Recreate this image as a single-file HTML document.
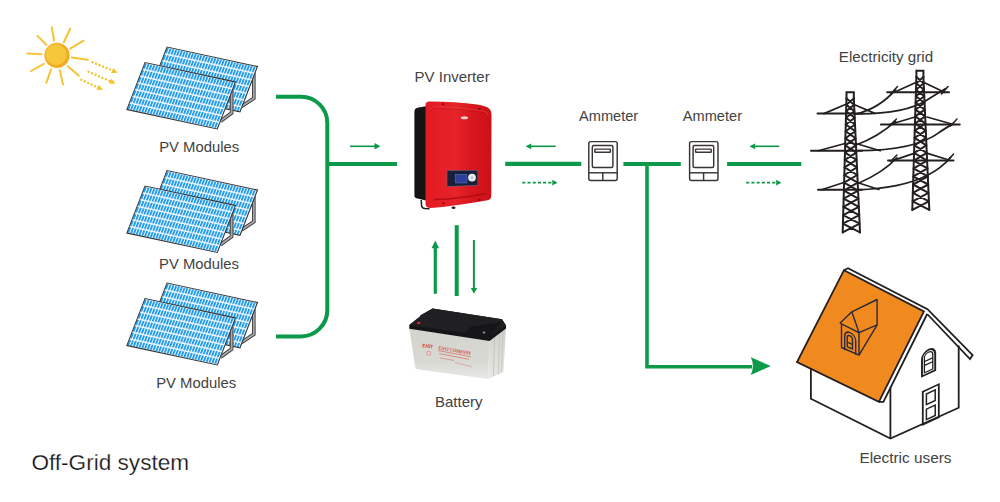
<!DOCTYPE html>
<html><head><meta charset="utf-8">
<style>
html,body{margin:0;padding:0;background:#fff;width:1000px;height:502px;overflow:hidden}
svg{display:block}
.lbl{font-family:"Liberation Sans",sans-serif;font-size:15px;fill:#424242}
</style></head>
<body>
<svg width="1000" height="502" viewBox="0 0 1000 502">
<defs>
  <pattern id="cells" patternUnits="userSpaceOnUse" x="0.3" y="0.8" width="2.8" height="6.714">
    <rect width="2.8" height="6.714" fill="#1194ea"/>
    <rect x="1.72" y="0" width="1.08" height="6.714" fill="#f4faff"/>
    <rect x="0" y="5.35" width="2.8" height="1.36" fill="#f4faff"/>
  </pattern>
  <linearGradient id="redg" x1="0" y1="0" x2="1" y2="0">
    <stop offset="0" stop-color="#e31a22"/>
    <stop offset="0.45" stop-color="#e6242a"/>
    <stop offset="0.7" stop-color="#d8161d"/>
    <stop offset="1" stop-color="#cc1119"/>
  </linearGradient>
  <linearGradient id="battf" x1="0" y1="0" x2="0" y2="1">
    <stop offset="0" stop-color="#d3d4cd"/>
    <stop offset="0.65" stop-color="#d8d9d3"/>
    <stop offset="1" stop-color="#e8e8e5"/>
  </linearGradient>
  <linearGradient id="batts" x1="0" y1="0" x2="0" y2="1">
    <stop offset="0" stop-color="#cfd0ca"/>
    <stop offset="1" stop-color="#e8e8e5"/>
  </linearGradient>
</defs>

<!-- SUN -->
<g id="sun">
  <g stroke="#f6c435" stroke-width="2" stroke-linecap="round">
    <line x1="37.5" y1="35.9" x2="46.3" y2="44.7"/>
    <line x1="51.8" y1="27.2" x2="54.2" y2="40.7"/>
    <line x1="70.2" y1="28.8" x2="63.8" y2="42.3"/>
    <line x1="83.7" y1="40.7" x2="70.2" y2="48.7"/>
    <line x1="27.2" y1="53.4" x2="41.5" y2="54.2"/>
    <line x1="71.8" y1="57.4" x2="87.7" y2="59.8"/>
    <line x1="31.1" y1="71" x2="43.9" y2="63.8"/>
    <line x1="46.3" y1="82.9" x2="51.1" y2="69.4"/>
    <line x1="63" y1="84.5" x2="59.8" y2="70.2"/>
    <line x1="78.9" y1="75.7" x2="67.8" y2="66.2"/>
  </g>
  <circle cx="57" cy="55.4" r="12.6" fill="#f1ac22"/>
  <circle cx="56.1" cy="54.6" r="10.5" fill="#f6c73a"/>
  <g stroke="#f6bf22" stroke-width="2.3" stroke-linecap="round" stroke-dasharray="0.1 3.7" fill="none">
    <line x1="92.5" y1="62.2" x2="112.7" y2="70.7"/>
    <line x1="88.5" y1="71.8" x2="110.7" y2="81.4"/>
    <line x1="81.3" y1="79.7" x2="98.1" y2="87.6"/>
  </g>
  <g fill="#f6bf22">
    <polygon points="117.6,72.8 111.2,73.0 113.3,68.1"/>
    <polygon points="115.6,83.5 109.2,83.7 111.3,78.7"/>
    <polygon points="102.9,89.8 96.5,89.8 98.8,84.9"/>
  </g>
</g>

<!-- PANELS -->
<g id="panel">
  <!-- back stand -->
  <path d="M253.8,72.5 L253.8,98.3 L241.5,106.5" fill="none" stroke="#3a3a3a" stroke-width="3.6" stroke-linejoin="miter"/>
  <path d="M253.8,72.5 L253.8,98.3 L241.5,106.5" fill="none" stroke="#a9a9a9" stroke-width="1.8" stroke-linejoin="miter"/>
  <!-- back panel -->
  <g transform="matrix(1,0.2155,-0.3863,1,167,47)">
    <rect x="0" y="0" width="90.5" height="45.3" fill="url(#cells)" stroke="#333" stroke-width="1"/>
  </g>
  <!-- front stand -->
  <path d="M231.6,86 L231.6,113 L220.5,121.2" fill="none" stroke="#3a3a3a" stroke-width="3.6"/>
  <path d="M231.6,86 L231.6,113 L220.5,121.2" fill="none" stroke="#a9a9a9" stroke-width="1.8"/>
  <!-- front panel -->
  <g transform="matrix(1,0.2155,-0.3863,1,145,62.5)">
    <rect x="0" y="0" width="90.5" height="47" fill="url(#cells)" stroke="#333" stroke-width="1"/>
  </g>
</g>
<use href="#panel" transform="translate(0,123.5)"/>
<use href="#panel" transform="translate(0,236)"/>

<!-- GREEN LINES -->
<g stroke="#0c9a4a" fill="none">
  <path d="M276,96.7 L301,96.7 A26.3,26.3 0 0 1 327.3,123 L327.3,310 A26.3,26.3 0 0 1 301,336.4 L276,336.4" stroke-width="4"/>
  <line x1="327.3" y1="164" x2="397" y2="164" stroke-width="4"/>
  <line x1="505.2" y1="163.9" x2="581.3" y2="163.9" stroke-width="4.2"/>
  <line x1="623.4" y1="164" x2="680.8" y2="164" stroke-width="4.2"/>
  <line x1="727.1" y1="164" x2="801.3" y2="164" stroke-width="4.2"/>
  <path d="M647,164 L647,366.8 L752,366.8" stroke-width="3.6"/>
  <line x1="456.7" y1="225.2" x2="456.7" y2="296" stroke-width="4"/>
  <line x1="435.3" y1="247" x2="435.3" y2="293.8" stroke-width="3.2"/>
  <line x1="473.9" y1="240" x2="473.9" y2="289" stroke-width="2"/>
  <!-- small arrows -->
  <line x1="350" y1="146.3" x2="376" y2="146.3" stroke-width="1.6"/>
  <line x1="530" y1="146.3" x2="555.7" y2="146.3" stroke-width="1.6"/>
  <line x1="754" y1="146.3" x2="779.3" y2="146.3" stroke-width="1.6"/>
  <line x1="522.3" y1="182.7" x2="553" y2="182.7" stroke-width="1.7" stroke-dasharray="3.1 2.1"/>
  <line x1="746.2" y1="182.7" x2="777" y2="182.7" stroke-width="1.7" stroke-dasharray="3.1 2.1"/>
</g>
<g fill="#0c9a4a">
  <polygon points="380.5,146.3 374.5,143 374.5,149.6"/>
  <polygon points="525.6,146.3 531.2,143.4 531.2,149.2"/>
  <polygon points="749.5,146.3 755.1,143.4 755.1,149.2"/>
  <polygon points="557.6,182.7 552.3,179.8 552.3,185.6"/>
  <polygon points="781.5,182.7 776.2,179.8 776.2,185.6"/>
  <polygon points="435.3,240.4 431.5,248.3 439.1,248.3"/>
  <polygon points="473.9,293.8 470.8,287.9 477.2,287.9"/>
  <path d="M770.8,366 L750.8,357.3 Q755,366 750.8,374.9 Z"/>
</g>

<!-- INVERTER -->
<g id="inverter">
  <path d="M418.5,107.6 Q414.4,108 414.4,112 L414.4,195.5 Q414.4,198.2 417.5,198.6 L426,200.5 L426,106.2 Z" fill="#141414"/>
  <path d="M421.2,200 L421.6,205.8 Q422,208.2 425,208.5 L429.5,208.7" fill="none" stroke="#1a1a1a" stroke-width="1.5"/>
  <path d="M429.2,101.6 Q456,101.6 477,104.6 Q486,106.2 489,108.5 Q491.5,110.5 491.5,114.5 L491.3,195.5 Q491.3,199.8 487.5,200.3 Q445,207.6 430,207.9 Q425.5,208 425.5,203.5 L425.5,105.3 Q425.5,101.6 429.2,101.6 Z" fill="url(#redg)"/>
  <path d="M430.5,112 Q431,108 436,108 Q462,108.8 483,112.5 Q487.2,113.5 487.2,117" fill="none" stroke="#b8101a" stroke-width="1.1" opacity="0.45"/>
  <path d="M430,110.5 Q430.5,106.8 435.5,106.8 Q462,107.5 483.5,111.2 Q487.8,112.2 487.8,116" fill="none" stroke="#f25858" stroke-width="0.8" opacity="0.5"/>
  <path d="M434,199.6 Q462,198.5 486,193.4" fill="none" stroke="#a00a0e" stroke-width="1.5" opacity="0.75"/>
  <circle cx="442.9" cy="104.3" r="1" fill="#6a0a0c"/>
  <circle cx="479.4" cy="109" r="1" fill="#6a0a0c"/>
  <circle cx="443.5" cy="203.3" r="1" fill="#6a0a0c"/>
  <circle cx="479.5" cy="199.8" r="1" fill="#6a0a0c"/>
  <ellipse cx="464.5" cy="117.8" rx="3.6" ry="1.5" fill="#f4d0d0"/>
  <ellipse cx="453.5" cy="207.8" rx="2" ry="1.2" fill="#222"/>
  <path d="M447,170.6 L477.8,170.3 L477.8,185.3 L447,186.6 Z" fill="#19203a" stroke="#6c7494" stroke-width="0.5"/>
  <rect x="455.4" y="174.3" width="11.5" height="8.7" fill="#2c3f9a" stroke="#6a7ac0" stroke-width="0.5"/>
  <circle cx="472" cy="177.6" r="3.9" fill="#e8ecf2"/>
  <circle cx="472" cy="177.6" r="1.5" fill="#c2c8d6"/>
</g>

<!-- BATTERY -->
<g id="battery">
  <polygon points="409.3,328.5 489.5,340.5 488,379 415.5,369" fill="url(#battf)"/>
  <polygon points="489.5,340.5 506,328 503.5,372 488,379" fill="url(#batts)"/>
  <g stroke="#bfc0ba" stroke-width="0.8">
    <line x1="494.5" y1="336.8" x2="493.5" y2="376.5"/>
    <line x1="499.5" y1="333" x2="498.5" y2="374"/>
    <line x1="503" y1="330.5" x2="501.5" y2="372.5"/>
  </g>
  <polygon points="409.3,325 420,316.5 420.3,315.5 432.6,308.5 502,319.3 506,325.5 506,328.5 489.5,341 409.3,328.7" fill="#151517"/>
  <polygon points="409.3,325 489.5,336.5 506,325.5 502,319.3 432.6,308.5 420.3,315.5 420,316.5" fill="#202023"/>
  <polygon points="470,327 503,321.5 489.5,336.5 466,333" fill="#161618"/>
  <ellipse cx="418.7" cy="322.9" rx="1.8" ry="1.2" fill="#e02026"/>
  <ellipse cx="484" cy="332.5" rx="1.4" ry="1" fill="#8a8c90"/>
  <text transform="translate(422.3,347.3) rotate(6)" textLength="10.5" lengthAdjust="spacingAndGlyphs" style="font-family:'Liberation Sans',sans-serif;font-weight:bold;font-size:5px;fill:#d83434">EAST</text>
  <circle cx="428.7" cy="353.2" r="2.1" fill="none" stroke="#e08080" stroke-width="0.7"/>
  <text transform="translate(438.3,349.2) rotate(10.4)" textLength="33" lengthAdjust="spacingAndGlyphs" style="font-family:'Liberation Serif',serif;font-weight:bold;font-size:5.2px;fill:#d84848">EAST COMPANY</text>
  <g stroke="#dc6a6a" fill="none" opacity="0.8">
    <line x1="438.3" y1="350.6" x2="471" y2="356.8" stroke-width="0.9"/>
    <line x1="439" y1="353.6" x2="469" y2="359.3" stroke-width="0.9"/>
    <line x1="440" y1="357.8" x2="454" y2="360.5" stroke-width="0.7"/>
    <line x1="455" y1="362.3" x2="471.5" y2="366.8" stroke-width="0.6"/>
  </g>
</g>

<!-- AMMETERS -->
<g id="ammeter" fill="none" stroke="#3a3434" stroke-width="1.45">
  <rect x="588.8" y="141.6" width="28.4" height="38.8" rx="2"/>
  <rect x="592.3" y="145.4" width="20.6" height="22" rx="1.5"/>
  <rect x="594.8" y="149.1" width="15.6" height="3.2" rx="0.6"/>
  <line x1="588.8" y1="172.8" x2="617.2" y2="172.8"/>
  <line x1="602.8" y1="172.8" x2="602.8" y2="180.4"/>
</g>
<use href="#ammeter" transform="translate(100.8,0)"/>

<!-- TOWERS -->
<g id="towers" fill="none" stroke="#231f20" stroke-width="2" stroke-linecap="round">
<path d="M846.5,98.5 L846.5,92.2 L853.8,92.2 L853.8,98.5" />
<line x1="846.5" y1="98.5" x2="842.7" y2="232.4"/>
<line x1="853.8" y1="98.5" x2="860" y2="232.4"/>
<path d="M846.5,98.5 L854.1,104.8 M853.8,98.5 L846.3,104.8 M846.3,104.8 L854.4,111.3 M854.1,104.8 L846.1,111.3 M846.1,111.3 L854.7,117.8 M854.4,111.3 L846.0,117.8 M846.0,117.8 L855.0,124.5 M854.7,117.8 L845.8,124.5 M845.8,124.5 L855.3,131.3 M855.0,124.5 L845.6,131.3 M845.6,131.3 L855.6,138.3 M855.3,131.3 L845.4,138.3 M845.4,138.3 L856.0,145.4 M855.6,138.3 L845.2,145.4 M845.2,145.4 L856.3,152.6 M856.0,145.4 L845.0,152.6 M845.0,152.6 L856.6,159.9 M856.3,152.6 L844.8,159.9 M844.8,159.9 L857.0,167.4 M856.6,159.9 L844.5,167.4 M844.5,167.4 L857.3,175.0 M857.0,167.4 L844.3,175.0 M844.3,175.0 L857.7,182.7 M857.3,175.0 L844.1,182.7 M844.1,182.7 L858.1,190.6 M857.7,182.7 L843.9,190.6 M843.9,190.6 L858.4,198.7 M858.1,190.6 L843.7,198.7 M843.7,198.7 L858.8,206.9 M858.4,198.7 L843.4,206.9 M843.4,206.9 L859.2,215.2 M858.8,206.9 L843.2,215.2 M843.2,215.2 L859.6,223.7 M859.2,215.2 L842.9,223.7 M842.9,223.7 L860.0,232.4 M859.6,223.7 L842.7,232.4"/>
<path d="M916.4,77 L916.4,70.8 L923.4,70.8 L923.4,77" />
<line x1="916.4" y1="77" x2="912.3" y2="209.9"/>
<line x1="923.4" y1="77" x2="929.3" y2="209.9"/>
<path d="M916.4,77.0 L923.7,83.3 M923.4,77.0 L916.2,83.3 M916.2,83.3 L924.0,89.7 M923.7,83.3 L916.0,89.7 M916.0,89.7 L924.3,96.2 M924.0,89.7 L915.8,96.2 M915.8,96.2 L924.5,102.8 M924.3,96.2 L915.6,102.8 M915.6,102.8 L924.8,109.6 M924.5,102.8 L915.4,109.6 M915.4,109.6 L925.2,116.4 M924.8,109.6 L915.2,116.4 M915.2,116.4 L925.5,123.5 M925.2,116.4 L915.0,123.5 M915.0,123.5 L925.8,130.6 M925.5,123.5 L914.7,130.6 M914.7,130.6 L926.1,137.9 M925.8,130.6 L914.5,137.9 M914.5,137.9 L926.4,145.3 M926.1,137.9 L914.3,145.3 M914.3,145.3 L926.8,152.9 M926.4,145.3 L914.1,152.9 M914.1,152.9 L927.1,160.6 M926.8,152.9 L913.8,160.6 M913.8,160.6 L927.5,168.4 M927.1,160.6 L913.6,168.4 M913.6,168.4 L927.8,176.4 M927.5,168.4 L913.3,176.4 M913.3,176.4 L928.2,184.5 M927.8,176.4 L913.1,184.5 M913.1,184.5 L928.5,192.8 M928.2,184.5 L912.8,192.8 M912.8,192.8 L928.9,201.3 M928.5,192.8 L912.6,201.3 M912.6,201.3 L929.3,209.9 M928.9,201.3 L912.3,209.9"/>
  <g stroke-width="2">
    <line x1="817.5" y1="113.6" x2="862" y2="113.6"/>
    <line x1="811" y1="150.7" x2="862" y2="150.7"/>
    <line x1="818" y1="189.8" x2="862" y2="189.8"/>
    <line x1="887.2" y1="92.3" x2="949" y2="92.3"/>
    <line x1="880.9" y1="124.5" x2="959.7" y2="124.5"/>
    <line x1="888" y1="160.6" x2="953.5" y2="160.6"/>
  </g>
  <g stroke-width="1.7">
    <path d="M823.9,113.6 L846.5,104 M854,104.5 L874.8,113.4"/>
    <path d="M818.3,150.7 L845,143.5 M856,143.5 L880.3,150.7"/>
    <path d="M821.5,189.8 L843.9,182.5 M857.3,182.5 L878.9,189.5"/>
    <path d="M894.3,92.3 L915.8,82.4 M924,82.4 L944.5,92.3"/>
    <path d="M889.9,124.5 L915,117 M927,117 L953.5,124.5"/>
    <path d="M892.5,160.6 L914,153.4 M927.5,153.4 L948,159.7"/>
  </g>
  <g stroke-width="1.8">
    <path d="M855.7,114.2 Q880,108 895.5,89.6"/>
    <path d="M858,113.8 Q905,114 926.6,100.3 Q938,93 945.4,88.7"/>
    <path d="M856,145 Q878,137 895.5,121.4"/>
    <path d="M858,150.7 Q915,150.5 939,132.6 Q947,127 953.5,123.6"/>
    <path d="M859,183 Q883,172.5 896.8,158"/>
    <path d="M858,189.8 Q900,188.5 926.6,175.8 Q942,168 950.8,157"/>
  </g>
  <g stroke-width="1.5">
    <path d="M891,93.5 L897.5,86.5 M941.5,94 L948,86.5"/>
    <path d="M889.5,125.5 L896.5,119 M950.5,126 L957,119"/>
    <path d="M890.5,161.5 L897,155 M947.5,161 L953.5,154"/>
  </g>
</g>

<!-- HOUSE -->
<g id="house" stroke="#231f20" stroke-width="1.8" stroke-linejoin="miter" fill="none">
  <polygon points="844,270.2 923.9,311.5 878.9,401.9 797,362" fill="#f08a1e"/>
  <path d="M844,270.2 L848,268.3 L927.5,309.2 L972.6,355 L970,359 L927.2,314"/>
  <path d="M927.2,314 L883.4,401.9 L878.9,401.9"/>
  <path d="M958.7,345.6 L958.7,407.7 L890.4,438.6 L810.9,398.8 L810.9,368.6"/>
  <line x1="890.4" y1="387.4" x2="890.4" y2="438.6"/>
  <g stroke="#2b2a3a" stroke-width="1.4" stroke-linejoin="round">
    <path d="M839.9,323.2 L851.8,311.8 L877.1,299.5 L877.1,324.8 L859,332.6 L851.8,311.8 M839.9,323.2 L859,332.6"/>
    <path d="M841.5,324.5 L841.5,347.5 L859,355.2 L859,332.6 M877.1,324.8 L859,355.2"/>
    <g transform="translate(844.7,350) skewY(24)">
      <path d="M0,0 L0,-14.3 A5.5,5.5 0 0 1 11,-14.3 L11,0"/>
      <path d="M2.6,-4.4 L2.6,-13.9 A2.6,2.6 0 0 1 7.8,-13.9 L7.8,-4.4 Z M2.6,-9 L7.8,-9"/>
    </g>
  </g>
  <g transform="translate(922,376.4) skewY(-25)">
    <path d="M0,0 L0,-17 A6.6,6.6 0 0 1 13.2,-17 L13.2,0 Z" stroke-width="1.9"/>
    <path d="M2.4,-2.4 L2.4,-17 A4.2,4.2 0 0 1 10.8,-17 L10.8,-2.4 Z M2.4,-9.8 L10.8,-9.8 M2.4,-13.6 L10.8,-13.6" stroke-width="1.3"/>
  </g>
  <g transform="translate(922.8,424.7) skewY(-25)">
    <rect x="0" y="-33" width="16" height="33" stroke-width="1.8"/>
    <rect x="3.6" y="-29" width="8.8" height="10.6" stroke-width="1.5"/>
    <rect x="3.6" y="-13.8" width="8.8" height="10.4" stroke-width="1.5"/>
  </g>
</g>

<!-- TEXT -->
<text class="lbl" x="159.2" y="151.5" textLength="79.9" lengthAdjust="spacingAndGlyphs">PV Modules</text>
<text class="lbl" x="159" y="268.5" textLength="79.9" lengthAdjust="spacingAndGlyphs">PV Modules</text>
<text class="lbl" x="156.2" y="387.5" textLength="79.9" lengthAdjust="spacingAndGlyphs">PV Modules</text>
<text class="lbl" x="414.6" y="81.5">PV Inverter</text>
<text class="lbl" x="435" y="406.8">Battery</text>
<text class="lbl" x="579" y="121.2" textLength="59.2" lengthAdjust="spacingAndGlyphs">Ammeter</text>
<text class="lbl" x="682.8" y="121.2" textLength="59.2" lengthAdjust="spacingAndGlyphs">Ammeter</text>
<text class="lbl" x="838.8" y="61.5" textLength="94.3" lengthAdjust="spacingAndGlyphs">Electricity grid</text>
<text class="lbl" x="859.4" y="462.6" textLength="92.1" lengthAdjust="spacingAndGlyphs">Electric users</text>
<text x="31.4" y="469.7" textLength="157.7" lengthAdjust="spacing" style="font-family:'Liberation Sans',sans-serif;font-size:22.6px;fill:#111;stroke:#fff;stroke-width:0.25px">Off-Grid system</text>

</svg>
</body></html>
